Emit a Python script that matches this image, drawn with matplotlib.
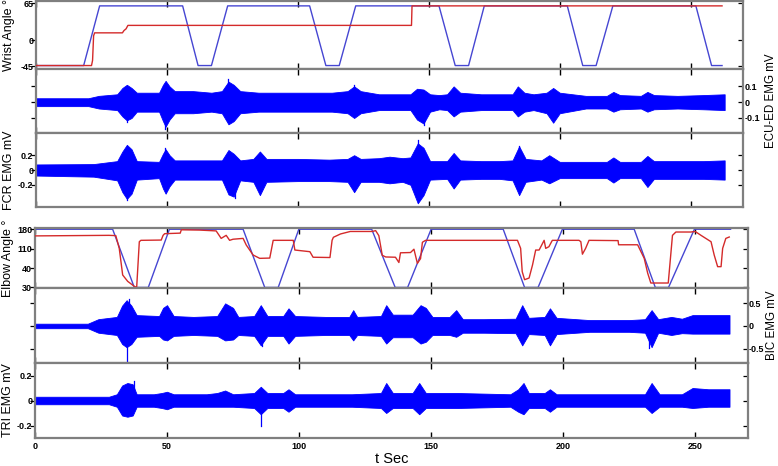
import matplotlib
matplotlib.use('Agg')
import matplotlib.pyplot as plt
import matplotlib.lines as mlines

plt.rcParams['font.family'] = ['Liberation Sans', 'DejaVu Sans']

# ---------------- data ----------------
x_ticks = [0, 50, 100, 150, 200, 250]

# Wrist angle (deg)
wrist_ref_t = [0, 18.2, 24.3, 56.0, 61.9, 67.0, 73.2, 104.5, 110.7, 115.8, 122.1,
               153.9, 160.1, 165.2, 171.2, 202.9, 208.8, 213.9, 220.3, 252.0, 258.0, 262.0]
wrist_ref = [-44, -44, 60, 60, -44, -44, 60, 60, -44, -44, 60,
             60, -44, -44, 60, 60, -44, -44, 60, 60, -44, -44]
wrist_act_t = [0, 21.2, 21.6, 22.0, 22.4, 33.0, 33.6, 34.4, 35.1, 143.4, 143.6, 262.0]
wrist_act = [-44, -44, -35, 8, 13, 13, 17, 20, 26, 26, 60, 60]

# Elbow angle (deg, plotted on display scale)
elbow_ref_t = [0, 29.4, 37.6, 42.9, 50.9, 78.8, 87.0, 92.1, 99.9, 127.5, 136.4,
               141.1, 150.0, 177.3, 185.4, 190.5, 199.7, 226.9, 234.9, 239.9, 249.7, 263.4]
elbow_ref = [180, 180, -30, -30, 180, 180, -30, -30, 180, 180, -30,
             -30, 180, 180, -30, -30, 180, 180, -30, -30, 180, 180]
elbow_act_t = [0, 28, 30.6, 31.9, 33.2, 35.1, 37.6, 38.5, 39.5, 40.1,
               47.8, 48.5, 49.1, 55.0, 55.4, 62.3, 68.6, 70.5, 72.4, 73.7,
               75.0, 78.8, 80.0, 82.6, 85.1, 88.9, 90.2, 97.8, 98.4, 104.1,
               105.3, 111.7, 112.5, 113.0, 115.7, 119.4, 127.7, 129.0, 130.2, 131.5,
               132.8, 136.5, 137.8, 138.4, 142.2, 143.5, 144.8, 146.0, 146.7, 147.9,
               182.7, 183.9, 184.5, 185.4, 187.1, 188.4, 189.6, 190.9, 192.8, 193.4,
               194.6, 195.9, 206.0, 206.7, 207.3, 208.5, 209.8, 220.8, 221.0, 228.2,
               230.7, 232.0, 233.2, 239.8, 241.4, 242.7, 248.4, 250.0, 252.2, 256.0,
               257.2, 258.5, 259.8, 260.4, 261.6, 262.9]
elbow_act = [156, 158, 157, 111, 15, -8, -26, -30, 135, 140,
             141, 158, 164, 166, 178, 177, 174, 147, 158, 140,
             144, 147, 123, 87, 75, 76, 140, 140, 105, 99,
             79, 78, 140, 151, 163, 172, 172, 175, 157, 86,
             80, 79, 60, 95, 96, 108, 57, 74, 133, 140,
             140, 111, 27, -2, 4, 51, 105, 105, 140, 111,
             117, 140, 140, 135, 90, 111, 140, 139, 124, 124,
             75, 22, -14, -14, 158, 170, 170, 172, 158, 135,
             87, 45, 45, 111, 147, 152]

# EMG envelopes (mV)
ecu_t = [0, 20, 24, 31, 33, 34.7, 36.5, 38.5, 42, 47,
         48.5, 49.5, 51, 53, 60, 67, 71, 73.5, 75.5, 78,
         85, 95, 105, 113, 119, 121.5, 124, 131, 140, 143,
         145.5, 148, 150.5, 154, 157, 159.5, 162, 170, 177, 182,
         184, 186.5, 190, 195, 197.5, 200, 210, 218, 220.5, 223,
         231, 233.5, 236, 245, 255, 263]
ecu_hi = [0.025, 0.025, 0.04, 0.05, 0.09, 0.11, 0.09, 0.06, 0.06, 0.06,
          0.11, 0.135, 0.10, 0.07, 0.07, 0.06, 0.07, 0.13, 0.11, 0.07,
          0.06, 0.06, 0.06, 0.06, 0.07, 0.10, 0.07, 0.05, 0.05, 0.05,
          0.085, 0.08, 0.05, 0.045, 0.05, 0.10, 0.06, 0.05, 0.05, 0.05,
          0.10, 0.06, 0.05, 0.06, 0.09, 0.06, 0.04, 0.04, 0.065, 0.045,
          0.04, 0.065, 0.045, 0.04, 0.045, 0.05]
ecu_lo = [-0.025, -0.025, -0.04, -0.05, -0.09, -0.115, -0.10, -0.06, -0.06, -0.06,
          -0.12, -0.155, -0.11, -0.07, -0.07, -0.06, -0.07, -0.14, -0.12, -0.07,
          -0.06, -0.06, -0.06, -0.06, -0.07, -0.10, -0.07, -0.05, -0.05, -0.05,
          -0.11, -0.135, -0.06, -0.045, -0.05, -0.09, -0.06, -0.05, -0.05, -0.05,
          -0.09, -0.06, -0.05, -0.07, -0.13, -0.07, -0.04, -0.04, -0.06, -0.045,
          -0.04, -0.06, -0.045, -0.04, -0.045, -0.05]

fcr_t = [0, 22, 31, 33, 34.7, 36.5, 38.5, 47, 48.5, 49.5,
         51, 53, 60, 71, 73.5, 75.5, 78, 83, 85.5, 88,
         100, 112, 119, 121.5, 124, 131, 135, 140, 143, 145.8,
         148, 150.5, 157, 159.5, 162, 170, 177, 182, 184.5, 187,
         193, 196, 200, 210, 218, 220.5, 223, 231, 233.5, 236,
         245, 255, 263]
fcr_hi = [0.075, 0.08, 0.12, 0.25, 0.34, 0.28, 0.12, 0.11, 0.22, 0.28,
          0.20, 0.13, 0.13, 0.13, 0.27, 0.22, 0.13, 0.15, 0.25, 0.15,
          0.15, 0.14, 0.15, 0.20, 0.15, 0.16, 0.18, 0.16, 0.17, 0.36,
          0.30, 0.12, 0.12, 0.23, 0.13, 0.12, 0.12, 0.13, 0.32, 0.15,
          0.13, 0.20, 0.11, 0.11, 0.11, 0.17, 0.11, 0.11, 0.19, 0.12,
          0.12, 0.12, 0.13]
fcr_lo = [-0.075, -0.09, -0.14, -0.30, -0.39, -0.32, -0.13, -0.11, -0.25, -0.32,
          -0.22, -0.13, -0.13, -0.13, -0.33, -0.36, -0.14, -0.16, -0.34, -0.16,
          -0.15, -0.15, -0.16, -0.30, -0.16, -0.16, -0.18, -0.16, -0.20, -0.45,
          -0.34, -0.13, -0.12, -0.25, -0.13, -0.12, -0.12, -0.14, -0.34, -0.16,
          -0.13, -0.18, -0.11, -0.11, -0.11, -0.17, -0.11, -0.11, -0.23, -0.12,
          -0.12, -0.12, -0.13]

bic_t = [0, 20, 24, 31, 33, 34.7, 36.5, 38.5, 47, 48.5,
         50, 52.5, 60, 69, 72, 75, 77, 83, 85.5, 88,
         94, 96, 98.5, 110, 119, 120.5, 122, 131, 133, 135.5,
         141, 143, 146, 148, 150.5, 157, 159.5, 162, 170, 182,
         184.5, 187, 193, 195, 197.5, 210, 225, 231, 233.5, 236,
         241, 245, 249, 255, 263]
bic_hi = [0.05, 0.05, 0.15, 0.20, 0.45, 0.57, 0.45, 0.24, 0.22, 0.40,
          0.46, 0.22, 0.20, 0.22, 0.50, 0.40, 0.20, 0.22, 0.46, 0.22,
          0.22, 0.39, 0.22, 0.20, 0.20, 0.35, 0.20, 0.22, 0.46, 0.25,
          0.25, 0.25, 0.46, 0.40, 0.20, 0.20, 0.35, 0.15, 0.15, 0.16,
          0.46, 0.18, 0.20, 0.39, 0.18, 0.13, 0.13, 0.15, 0.35, 0.15,
          0.20, 0.16, 0.24, 0.24, 0.24]
bic_lo = [-0.05, -0.05, -0.15, -0.20, -0.40, -0.47, -0.40, -0.24, -0.22, -0.30,
          -0.32, -0.22, -0.20, -0.22, -0.32, -0.30, -0.20, -0.22, -0.43, -0.22,
          -0.22, -0.39, -0.22, -0.20, -0.20, -0.32, -0.20, -0.22, -0.39, -0.25,
          -0.25, -0.25, -0.39, -0.35, -0.20, -0.20, -0.24, -0.15, -0.15, -0.16,
          -0.43, -0.18, -0.20, -0.43, -0.18, -0.13, -0.13, -0.15, -0.47, -0.15,
          -0.20, -0.16, -0.17, -0.17, -0.17]

tri_t = [0, 28, 31, 33, 35, 37, 38.5, 45, 48, 50,
         52.5, 65, 69, 72, 75, 83, 85.5, 88, 94, 96,
         98.5, 120, 131, 133, 135.5, 141, 143, 145.5, 148, 160,
         180, 183, 185, 187, 193, 195, 197.5, 215, 231, 233.5,
         236.5, 245, 249, 255, 263]
tri_hi = [0.03, 0.03, 0.05, 0.12, 0.14, 0.13, 0.05, 0.05, 0.06, 0.07,
          0.05, 0.05, 0.06, 0.08, 0.05, 0.06, 0.11, 0.06, 0.06, 0.09,
          0.05, 0.05, 0.06, 0.14, 0.06, 0.06, 0.06, 0.14, 0.06, 0.06,
          0.05, 0.09, 0.14, 0.06, 0.06, 0.09, 0.05, 0.05, 0.05, 0.14,
          0.05, 0.05, 0.10, 0.09, 0.09]
tri_lo = [-0.03, -0.03, -0.05, -0.12, -0.13, -0.12, -0.05, -0.05, -0.06, -0.07,
          -0.05, -0.05, -0.05, -0.05, -0.05, -0.06, -0.11, -0.06, -0.06, -0.09,
          -0.05, -0.05, -0.06, -0.10, -0.06, -0.06, -0.06, -0.11, -0.06, -0.06,
          -0.05, -0.09, -0.11, -0.06, -0.06, -0.09, -0.05, -0.05, -0.05, -0.10,
          -0.05, -0.05, -0.06, -0.05, -0.05]

# isolated spikes (time, peak mV)
ecu_spk_t = [49.4, 34.7, 73.5, 148.0, 121.5]
ecu_spk_v = [-0.17, -0.125, 0.145, -0.145, 0.11]
fcr_spk_t = [34.7, 49.4, 145.8, 184.5, 76.0]
fcr_spk_v = [-0.40, 0.30, 0.40, 0.33, -0.38]
bic_spk_t = [34.7, 35.5, 86.0, 232.5]
bic_spk_v = [-0.84, 0.60, -0.45, -0.48]
tri_spk_t = [37.5, 85.5]
tri_spk_v = [0.16, -0.20]

# ---------------- layout ----------------
W, H = 778, 466
fig = plt.figure(figsize=(W / 100, H / 100), dpi=100)

def add_ax(l, r, t, b):
    return fig.add_axes([l / W, 1 - b / H, (r - l) / W, (b - t) / H])

ax1 = add_ax(36, 743, 1, 69)
ax2 = add_ax(36, 743, 69, 133)
ax3 = add_ax(36, 743, 133, 207)
ax4 = add_ax(35, 748, 228, 288)
ax5 = add_ax(35, 748, 288, 363)
ax6 = add_ax(35, 748, 363, 438)

REF_C = '#4646d2'
ACT_C = '#d42a2a'
EMG_C = '#0000ff'
SPINE_C = '#7f7f7f'
TICKFONT = dict(fontsize=6.5, fontweight='bold')
LABEL_FS = 9
RLABEL_FS = 8.3


def style(ax, ylim, yticks, ylabels, side, rpad=2):
    ax.set_xlim(0, 270)
    ax.set_ylim(*ylim)
    ax.set_xticks(x_ticks)
    ax.set_yticks(yticks)
    ax.set_yticklabels(ylabels, **TICKFONT)
    ax.set_xticklabels([str(v) for v in x_ticks], **TICKFONT)
    for s in ax.spines.values():
        s.set_color(SPINE_C)
        s.set_linewidth(1.6)
    ax.tick_params(axis='x', direction='in', top=True, bottom=True, length=4.5,
                   width=1.0, color='black', labelbottom=False, pad=3)
    ax.tick_params(axis='y', direction='in', left=True, right=True, length=3.5,
                   width=0.9, color='black',
                   labelleft=(side == 'left'), labelright=(side == 'right'), pad=rpad)
    for tk in ax.yaxis.get_major_ticks():
        tk.tick1line.set_marker(mlines.TICKLEFT)
    ax.set_facecolor('white')


def emg(ax, t, hi, lo, spk_t, spk_v):
    ax.fill_between(t, lo, hi, color=EMG_C, linewidth=0.6, edgecolor=EMG_C, zorder=2)
    for st, sv in zip(spk_t, spk_v):
        ax.plot([st, st], [0, sv], color=EMG_C, linewidth=0.9, zorder=2)


# Wrist
ax1.plot(wrist_ref_t, wrist_ref, color=REF_C, linewidth=1.0, zorder=2)
ax1.plot(wrist_act_t, wrist_act, color=ACT_C, linewidth=1.0, zorder=3)
style(ax1, (-50, 68.5), [65, 0, -45], ['65', '0', '-45'], 'left')
ax1.set_ylabel('Wrist Angle °', fontsize=LABEL_FS)
ax1.yaxis.set_label_coords(-0.029, 0.5)

# ECU-ED
emg(ax2, ecu_t, ecu_hi, ecu_lo, ecu_spk_t, ecu_spk_v)
style(ax2, (-0.195, 0.21), [0.1, 0, -0.1], ['0.1', '0', '-0.1'], 'right', rpad=1)
ax2.yaxis.set_label_position('right')
ax2.set_ylabel('ECU-ED EMG mV', fontsize=RLABEL_FS, rotation=90)
ax2.yaxis.set_label_coords(1.03, 0.5)

# FCR
emg(ax3, fcr_t, fcr_hi, fcr_lo, fcr_spk_t, fcr_spk_v)
style(ax3, (-0.5, 0.5), [0.2, 0, -0.2], ['0.2', '0', '-0.2'], 'left')
ax3.set_ylabel('FCR EMG mV', fontsize=LABEL_FS)
ax3.yaxis.set_label_coords(-0.029, 0.5)

# Elbow
ax4.plot(elbow_ref_t, elbow_ref, color=REF_C, linewidth=1.0, zorder=2)
ax4.plot(elbow_act_t, elbow_act, color=ACT_C, linewidth=1.0, zorder=3)
style(ax4, (-32, 184.5), [180, 110, 40, -30], ['180', '110', '40', '30'], 'left')
ax4.set_ylabel('Elbow Angle °', fontsize=LABEL_FS)
ax4.yaxis.set_label_coords(-0.029, 0.5)

# BIC
emg(ax5, bic_t, bic_hi, bic_lo, bic_spk_t, bic_spk_v)
style(ax5, (-0.82, 0.84), [0.5, 0, -0.5], ['0.5', '0', '-0.5'], 'right', rpad=0.8)
ax5.yaxis.set_label_position('right')
ax5.set_ylabel('BIC EMG mV', fontsize=RLABEL_FS, rotation=90)
ax5.yaxis.set_label_coords(1.03, 0.5)

# TRI
emg(ax6, tri_t, tri_hi, tri_lo, tri_spk_t, tri_spk_v)
style(ax6, (-0.3, 0.3), [0.2, 0, -0.2], ['0.2', '0', '-0.2'], 'left')
ax6.tick_params(axis='x', labelbottom=True)
ax6.set_ylabel('TRI EMG mV', fontsize=LABEL_FS)
ax6.yaxis.set_label_coords(-0.029, 0.5)
ax6.set_xlabel('t Sec', fontsize=10.5, labelpad=0.5)

# place the right-hand labels so that their box ends just inside the figure edge
fig.canvas.draw()
renderer = fig.canvas.get_renderer()
for ax in (ax2, ax5):
    lab = ax.yaxis.label
    bb = lab.get_window_extent(renderer)
    ax_bb = ax.get_window_extent(renderer)
    shift_px = (W - 0.5) - bb.x1
    x0 = 1.03 + shift_px / ax_bb.width
    ax.yaxis.set_label_coords(x0, 0.5)

fig.savefig('out.png', dpi=100)
